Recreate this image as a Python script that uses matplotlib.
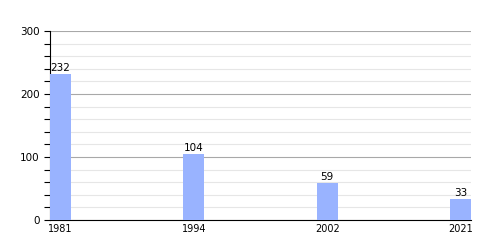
import matplotlib
matplotlib.use("Agg")
import matplotlib.pyplot as plt
from matplotlib.ticker import MultipleLocator

years = ["1981", "1994", "2002", "2021"]
values = [232, 104, 59, 33]

fig = plt.figure(figsize=(5, 2.5), dpi=100)
ax = fig.add_axes([0.1, 0.12, 0.842, 0.756])

w = 0.158
x = list(range(len(years)))
ax.bar(x, values, width=w, align="edge", color="#99b3ff", zorder=3)
for xi, v in zip(x, values):
    ax.text(xi + w / 2, v + 2, str(v), ha="center", va="bottom", fontsize=7.5, zorder=4)

ax.set_xlim(0, len(years) - 1 + w)
ax.set_ylim(0, 300)
ax.set_xticks([xi + w / 2 for xi in x])
ax.set_xticklabels(years)
ax.tick_params(axis="x", length=0, labelsize=7, pad=3)

ax.yaxis.set_major_locator(MultipleLocator(100))
ax.yaxis.set_minor_locator(MultipleLocator(20))
ax.tick_params(axis="y", which="both", length=4, labelsize=7.5, width=0.8)
ax.grid(axis="y", which="major", color="#a8a8a8", linewidth=0.8, zorder=0)
ax.grid(axis="y", which="minor", color="#e6e6e6", linewidth=0.8, zorder=0)

for s in ["top", "right"]:
    ax.spines[s].set_visible(False)
ax.spines["left"].set_linewidth(0.8)
ax.spines["bottom"].set_linewidth(0.8)

fig.savefig("out.png", dpi=100)
